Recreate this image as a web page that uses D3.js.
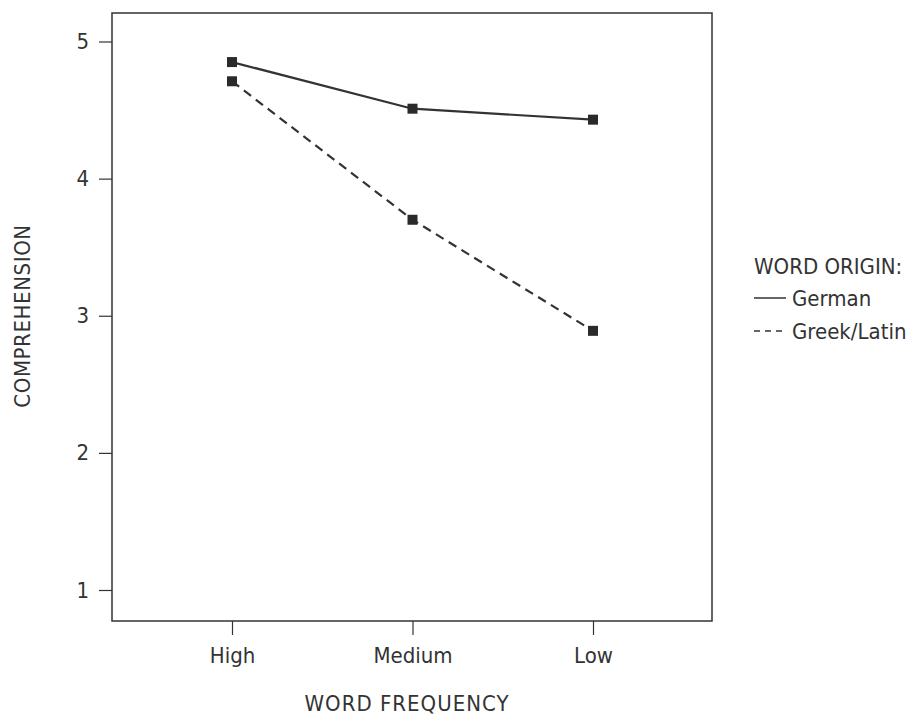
<!DOCTYPE html>
<html>
<head>
<meta charset="utf-8">
<script src="https://cdn.jsdelivr.net/npm/d3@7"></script>
<style>
  body { margin: 0; background: #fff; }
  svg { display: block; }
  text { font-family: "Liberation Sans Narrow", "DejaVu Sans Condensed", sans-serif; fill: #333; }
</style>
</head>
<body>
<svg id="chart" width="916" height="718"></svg>
<script>
// word frequency categories on the x axis
var frequencies = ["High", "Medium", "Low"];
// comprehension means per word origin
var germanValues = [4.85, 4.51, 4.43];
var greekLatinValues = [4.71, 3.70, 2.89];
var seriesNames = ["German", "Greek/Latin"];
var yTicks = [1, 2, 3, 4, 5];

var box = { left: 112, top: 13, right: 712, bottom: 621 },
    ink = "#333";

var svg = d3.select("#chart");

var x = d3.scalePoint()
    .domain(frequencies)
    .range([232, 593]);

var y = d3.scaleLinear()
    .domain([1, 5])
    .range([590, 41.5]);

// frame
svg.append("rect")
    .attr("x", box.left)
    .attr("y", box.top)
    .attr("width", box.right - box.left)
    .attr("height", box.bottom - box.top)
    .attr("fill", "none")
    .attr("stroke", ink)
    .attr("stroke-width", 1.5);

// y axis
var yAxis = svg.append("g")
    .attr("transform", "translate(" + box.left + ",0)")
    .call(d3.axisLeft(y).tickValues(yTicks).tickSize(13).tickPadding(10).tickFormat(d3.format("d")));
yAxis.select(".domain").remove();
yAxis.selectAll("line").attr("stroke", ink).attr("stroke-width", 1.2);
yAxis.selectAll("text").style("font-size", "22px").attr("fill", ink);

// x axis
var xAxis = svg.append("g")
    .attr("transform", "translate(0," + box.bottom + ")")
    .call(d3.axisBottom(x).tickSize(14).tickPadding(12));
xAxis.select(".domain").remove();
xAxis.selectAll("line").attr("stroke", ink).attr("stroke-width", 1.2);
xAxis.selectAll("text").style("font-size", "22px").attr("fill", ink);

// axis titles
svg.append("text")
    .attr("x", 407)
    .attr("y", 711)
    .attr("text-anchor", "middle")
    .style("font-size", "22px")
    .style("letter-spacing", "1px")
    .text("WORD FREQUENCY");

svg.append("text")
    .attr("transform", "translate(30,316) rotate(-90)")
    .attr("text-anchor", "middle")
    .style("font-size", "22px")
    .style("letter-spacing", "0.6px")
    .text("COMPREHENSION");

// series
var series = [
    { name: seriesNames[0], values: germanValues, dash: null },
    { name: seriesNames[1], values: greekLatinValues, dash: "9,6" }
];

var line = d3.line()
    .x(function (d, i) { return x(frequencies[i]); })
    .y(function (d) { return y(d); });

series.forEach(function (s) {
    svg.append("path")
        .attr("d", line(s.values))
        .attr("fill", "none")
        .attr("stroke", ink)
        .attr("stroke-width", 2.2)
        .attr("stroke-dasharray", s.dash);

    svg.selectAll(null)
        .data(s.values)
        .enter().append("rect")
        .attr("x", function (d, i) { return x(frequencies[i]) - 5; })
        .attr("y", function (d) { return y(d) - 5; })
        .attr("width", 10)
        .attr("height", 10)
        .attr("fill", "#2a2a2a");
});

// legend
var legend = svg.append("g").attr("transform", "translate(754,0)");
legend.append("text")
    .attr("x", 0)
    .attr("y", 274)
    .style("font-size", "22px")
    .text("WORD ORIGIN:");

series.forEach(function (s, i) {
    var ly = 298 + i * 33;
    legend.append("line")
        .attr("x1", 0)
        .attr("x2", 32)
        .attr("y1", ly)
        .attr("y2", ly)
        .attr("stroke", ink)
        .attr("stroke-width", 1.5)
        .attr("stroke-dasharray", s.dash ? "6,5" : null);
    legend.append("text")
        .attr("x", 38)
        .attr("y", ly + 8)
        .style("font-size", "22px")
        .text(s.name);
});
</script>
</body>
</html>
